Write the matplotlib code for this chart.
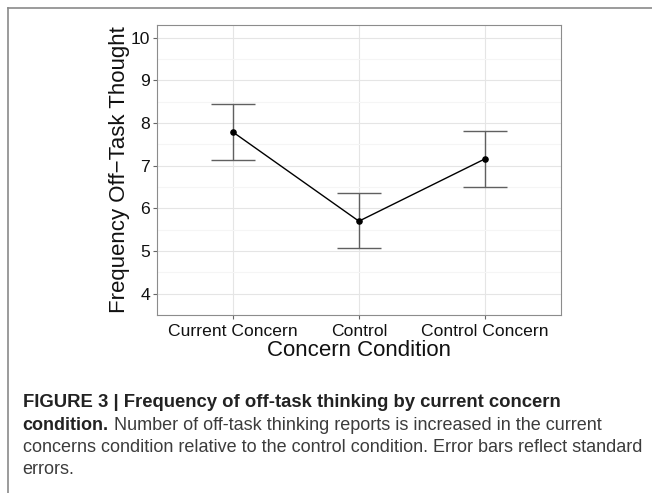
import matplotlib
matplotlib.use("Agg")
import matplotlib.pyplot as plt
from matplotlib.lines import Line2D

plt.rcParams['font.family'] = ['Liberation Sans', 'DejaVu Sans']

# data
conditions = ["Current Concern", "Control", "Control Concern"]
means = [7.79, 5.70, 7.16]
upper = [8.45, 6.35, 7.81]
lower = [7.14, 5.06, 6.51]
y_ticks = [4, 5, 6, 7, 8, 9, 10]

W, H = 652, 493
fig = plt.figure(figsize=(W / 100, H / 100), dpi=100)

# journal page frame (top and left rules)
fig.add_artist(Line2D([7.5 / W, 1], [1 - 7.5 / H, 1 - 7.5 / H], color="#8a8a8a", lw=1.2))
fig.add_artist(Line2D([7.5 / W, 7.5 / W], [0, 1 - 7.5 / H], color="#8a8a8a", lw=1.2))

ax = fig.add_axes([157.3 / W, 1 - 315 / H, (560.5 - 157.3) / W, (315 - 25) / H])

x = list(range(1, len(conditions) + 1))
yerr = [[m - lo for m, lo in zip(means, lower)], [up - m for m, up in zip(means, upper)]]
ax.errorbar(x, means, yerr=yerr, fmt="none", ecolor="#606060", elinewidth=1.0,
            capsize=16, capthick=1.0, zorder=3)
ax.plot(x, means, color="black", lw=1.0, zorder=4)
ax.scatter(x, means, s=14, color="black", zorder=5)

ax.set_xlim(0.4, 3.6)
ax.set_ylim(3.72, 10.30)
ax.set_xticks(x)
ax.set_xticklabels(conditions)
ax.set_yticks(y_ticks)
ax.set_yticks([v + 0.5 for v in y_ticks[:-1]] + [3.5 + 0.5 - 0.5], minor=True)

ax.grid(which="major", color="#e5e5e5", lw=0.8, zorder=0)
ax.yaxis.grid(which="minor", color="#f5f5f5", lw=0.8, zorder=0)
ax.set_axisbelow(True)
for sp in ax.spines.values():
    sp.set_color("#8c8c8c")
    sp.set_linewidth(0.8)

ax.tick_params(axis="both", which="major", length=3, width=0.8, color="#666666",
               labelsize=12.6, labelcolor="#111111", pad=2)
ax.tick_params(axis="x", which="major", pad=3.5)
ax.tick_params(axis="both", which="minor", length=0)

ax.set_xlabel("Concern Condition", fontsize=16, color="#111111", labelpad=0.5)
ax.set_ylabel("Frequency Off\u2212Task Thought", fontsize=16, color="#111111", labelpad=1)

# caption
cap_x = 22.7 / W
fs_bold = 13.3
fs = 13.0
fig.text(cap_x, 1 - 407.3 / H, "FIGURE 3 | Frequency of off-task thinking by current concern",
         fontsize=fs_bold, fontweight="bold", color="#222222", va="baseline")
b = fig.text(cap_x, 1 - 430 / H, "condition.", fontsize=fs, fontweight="bold",
             color="#222222", va="baseline")
ax.annotate(" Number of off-task thinking reports is increased in the current",
            xy=(1, 0), xycoords=b, va="bottom", ha="left", fontsize=fs, color="#3c3c3c",
            annotation_clip=False)
fig.text(cap_x, 1 - 452 / H,
         "concerns condition relative to the control condition. Error bars reflect standard",
         fontsize=fs, color="#3c3c3c", va="baseline")
fig.text(cap_x, 1 - 474 / H, "errors.", fontsize=fs, color="#3c3c3c", va="baseline")

fig.savefig("out.png", dpi=100)
